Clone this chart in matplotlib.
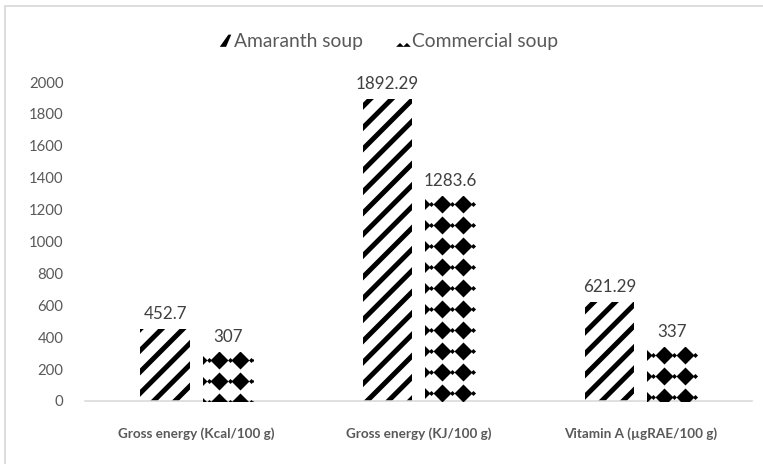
import numpy as np
import matplotlib
matplotlib.use("Agg")
import matplotlib.pyplot as plt
from matplotlib.patches import Rectangle, Polygon, Patch
from matplotlib.legend_handler import HandlerBase

categories = ["Gross energy (Kcal/100 g)", "Gross energy (KJ/100 g)", "Vitamin A (µgRAE/100 g)"]
amaranth = [452.7, 1892.29, 621.29]
commercial = [307, 1283.6, 337]
amaranth_labels = ["452.7", "1892.29", "621.29"]
commercial_labels = ["307", "1283.6", "337"]
series_names = ["Amaranth soup", "Commercial soup"]
yticks = [0, 200, 400, 600, 800, 1000, 1200, 1400, 1600, 1800, 2000]

DPI = 128
plt.rcParams['font.family'] = ['Lato', 'DejaVu Sans']
plt.rcParams['hatch.linewidth'] = 2.8
plt.rcParams['hatch.color'] = 'black'

fig = plt.figure(figsize=(763 / DPI, 464 / DPI), dpi=DPI)
W, H = 763, 464
ax = fig.add_axes([85.5 / W, 1 - 401 / H, (752 - 85.5) / W, (401 - 82) / H])

# outer chart border
fig.patches.append(Rectangle((5 / W, -0.1), 1.2, 1 - 6 / H + 0.1, transform=fig.transFigure,
                             facecolor='none', edgecolor='#d9d9d9', linewidth=1.0))

x = np.arange(len(categories))
bw = 0.224
gap = 0.058
off = (bw + gap) / 2
b1 = ax.bar(x - off, amaranth, bw, facecolor='white', edgecolor='black', linewidth=0, hatch='//')
b2 = ax.bar(x + off, commercial, bw, facecolor='white', edgecolor='black', linewidth=0)

ax.set_xlim(-0.5, len(categories) - 0.5)
ax.set_ylim(0, 2000)

lab_col = '#404040'
ax.bar_label(b1, labels=amaranth_labels, padding=4, fontsize=9.6, color=lab_col, clip_on=False)
ax.bar_label(b2, labels=commercial_labels, padding=4, fontsize=9.6, color=lab_col, clip_on=False)

# diamond texture for commercial bars (pattern laid in display pixels, clipped to each bar)
inv = ax.transData.inverted()
px = DPI / 72.0
step = 21.0
for patch in b2.patches:
    bb = patch.get_window_extent()
    cx = (bb.x0 + bb.x1) / 2 + 2
    big, small = [], []
    yrow = bb.y1 - 8
    while yrow > bb.y0 - step:
        for k in range(-3, 4):
            big.append((cx - step / 2 + k * step, yrow))
            small.append((cx + k * step, yrow))
        yrow -= step
    big = inv.transform(np.array(big))
    small = inv.transform(np.array(small))
    s1 = ax.scatter(big[:, 0], big[:, 1], marker='D', s=(18 / px / 1.414) ** 2,
                    color='black', linewidths=0, zorder=3)
    s2 = ax.scatter(small[:, 0], small[:, 1], marker='D', s=(5 / px / 1.414) ** 2,
                    color='black', linewidths=0, zorder=3)
    s1.set_clip_path(patch)
    s2.set_clip_path(patch)

for sp in ['top', 'right', 'left']:
    ax.spines[sp].set_visible(False)
ax.spines['bottom'].set_color('#d9d9d9')
ax.spines['bottom'].set_linewidth(0.9)

ax.set_yticks(yticks)
ax.set_yticklabels([str(t) for t in yticks])
ax.tick_params(axis='y', length=0, pad=12.4, labelsize=8.4, labelcolor='#595959')
ax.set_xticks(x)
ax.set_xticklabels(categories, fontweight='bold')
ax.tick_params(axis='x', length=0, pad=15, labelsize=7.6, labelcolor='#595959')


class DiamondHandler(HandlerBase):
    def create_artists(self, legend, orig_handle, xdescent, ydescent, width, height, fontsize, trans):
        x0, y0 = -xdescent, -ydescent
        arts = [Rectangle((x0, y0), width, height, facecolor='white', linewidth=0, transform=trans)]
        h = height * 0.32
        for cxm in (x0 + width * 0.2, x0 + width * 0.8):
            arts.append(Polygon([[cxm - h, y0], [cxm + h, y0], [cxm, y0 + h]], closed=True,
                                facecolor='black', linewidth=0, transform=trans))
        return arts


class WedgeHandler(HandlerBase):
    def create_artists(self, legend, orig_handle, xdescent, ydescent, width, height, fontsize, trans):
        x0, y0 = -xdescent, -ydescent
        return [Polygon([[x0, y0], [x0 + width * 0.55, y0], [x0 + width, y0 + height],
                         [x0 + width * 0.75, y0 + height]], closed=True,
                        facecolor='black', linewidth=0, transform=trans)]


h1 = Patch(facecolor='white', edgecolor='black', linewidth=0, hatch='//')
h2 = Patch(facecolor='white', edgecolor='none')
leg = fig.legend([h1, h2], series_names, loc='center', bbox_to_anchor=(389 / W, 1 - 42 / H),
                 ncol=2, frameon=False, fontsize=10.8, handlelength=0.6, handleheight=0.6,
                 handletextpad=0.15, columnspacing=1.8,
                 handler_map={h1: WedgeHandler(), h2: DiamondHandler()})
for t in leg.get_texts():
    t.set_color('#595959')

fig.savefig('out.png', dpi=DPI)
